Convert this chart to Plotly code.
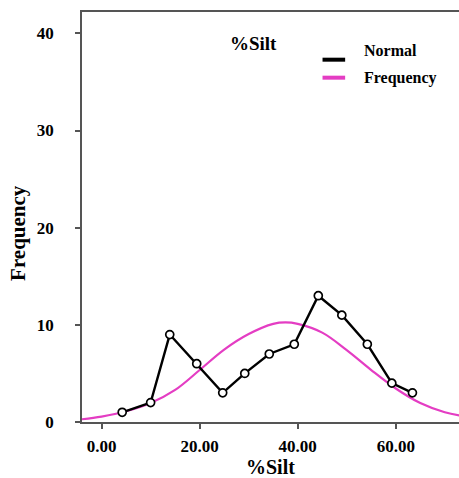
import plotly.graph_objects as go

# Observed frequency polygon (% silt bin midpoints vs counts)
silt_mid = [4.2, 10.0, 13.9, 19.4, 24.7, 29.2, 34.2, 39.3, 44.2, 49.0, 54.2, 59.2, 63.4]
counts = [1, 2, 9, 6, 3, 5, 7, 8, 13, 11, 8, 4, 3]

# Fitted normal curve, sampled along the silt axis
curve_x = [-4, 0, 5, 10, 15, 20, 25, 30, 35, 37.5, 40, 45, 50, 55, 60, 65, 70, 73]
curve_y = [0.28, 0.55, 1.1, 1.95, 3.3, 5.35, 7.45, 9.05, 10.1, 10.25, 10.1, 9.2, 7.4, 5.35,
           3.45, 1.95, 1.0, 0.68]

x_ticks = [0, 20, 40, 60]
x_tick_text = ["0.00", "20.00", "40.00", "60.00"]
y_ticks = [0, 10, 20, 30, 40]

serif = "Liberation Serif"
pink = "#e43dc3"

fig = go.Figure()
fig.add_trace(go.Scatter(
    x=curve_x, y=curve_y, mode="lines",
    line=dict(color=pink, width=2.2, shape="spline", smoothing=1.0),
    name="Frequency", showlegend=False,
))
fig.add_trace(go.Scatter(
    x=silt_mid, y=counts, mode="lines+markers",
    line=dict(color="black", width=2.4),
    marker=dict(symbol="circle", size=8, color="white",
                line=dict(color="black", width=1.7)),
    name="Normal", showlegend=False,
))

# Legend drawn as short line samples with labels
legend_items = [("Normal", "black", 0.8837, 0.905), ("Frequency", pink, 0.8398, 0.838)]
for label, color, y_line, y_text in legend_items:
    fig.add_shape(type="line", xref="paper", yref="paper",
                  x0=0.638, x1=0.698, y0=y_line, y1=y_line,
                  line=dict(color=color, width=4))
    fig.add_annotation(text="<b>" + label + "</b>", xref="paper", yref="paper",
                       x=0.742, y=y_text, xanchor="left", yanchor="middle",
                       showarrow=False,
                       font=dict(family=serif, size=16, color="black"))

fig.add_annotation(text="<b>%Silt</b>", xref="paper", yref="paper",
                   x=0.4536, y=0.924, xanchor="center", yanchor="middle",
                   showarrow=False,
                   font=dict(family=serif, size=19, color="black"))

# Axis titles
fig.add_annotation(text="<b>%Silt</b>", xref="paper", yref="paper",
                   x=0.5, y=-0.11, xanchor="center", yanchor="middle",
                   showarrow=False,
                   font=dict(family=serif, size=20, color="black"))
fig.add_annotation(text="<b>Frequency</b>", xref="paper", yref="paper",
                   x=-0.170, y=0.461, xanchor="center", yanchor="middle",
                   textangle=-90, showarrow=False,
                   font=dict(family=serif, size=21, color="black"))

fig.update_layout(
    width=459, height=478,
    margin=dict(l=82, r=0, t=12, b=56),
    paper_bgcolor="white", plot_bgcolor="white",
    font=dict(family=serif, color="black"),
)
fig.update_xaxes(
    range=[-4, 72.9], tickvals=x_ticks, ticktext=["<b>" + t + "</b>" for t in x_tick_text],
    showgrid=False, zeroline=False, automargin=False,
    showline=True, linecolor="#555", linewidth=1.5, mirror=True,
    ticks="outside", ticklen=5, tickcolor="#555", tickwidth=1.5,
    ticklabelstandoff=3,
    tickfont=dict(family=serif, size=17, color="black"),
)
fig.update_yaxes(
    range=[0, 42.2], tickvals=y_ticks, ticktext=["<b>%d</b>" % v for v in y_ticks],
    showgrid=False, zeroline=False, automargin=False,
    showline=True, linecolor="#555", linewidth=1.5,
    ticks="outside", ticklen=5, tickcolor="#555", tickwidth=1.5,
    ticklabelstandoff=18,
    tickfont=dict(family=serif, size=17, color="black"),
)

fig.write_html("out.html")
